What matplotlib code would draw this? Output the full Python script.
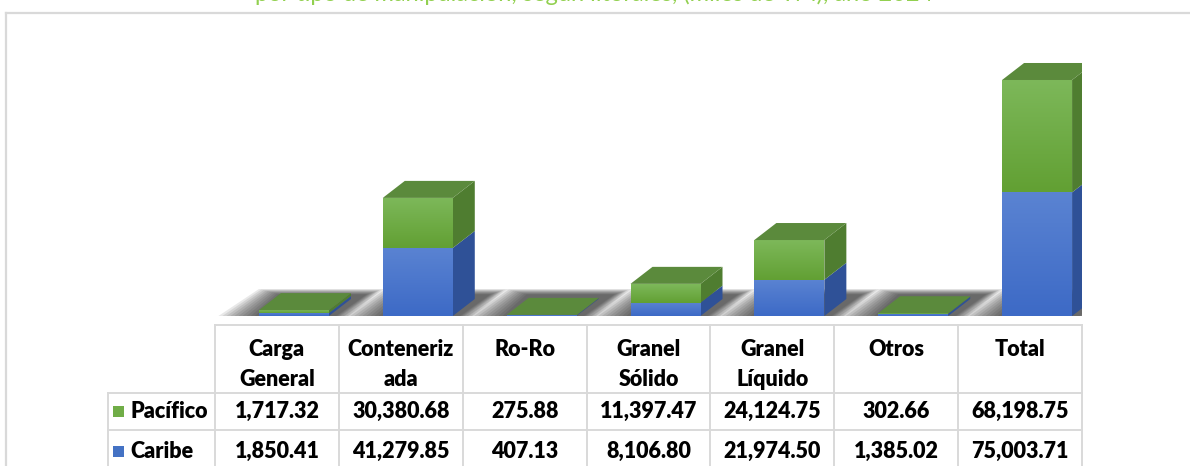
import matplotlib
matplotlib.use("Agg")
import matplotlib.pyplot as plt
import numpy as np
from matplotlib.patches import Polygon
from matplotlib.colors import LinearSegmentedColormap

# data (miles de TM, año 2024)
categorias = ["Carga\nGeneral", "Conteneriz\nada", "Ro-Ro", "Granel\nSólido",
              "Granel\nLíquido", "Otros", "Total"]
pacifico = [1717.32, 30380.68, 275.88, 11397.47, 24124.75, 302.66, 68198.75]
caribe = [1850.41, 41279.85, 407.13, 8106.80, 21974.50, 1385.02, 75003.71]
series = ["Pacífico", "Caribe"]
titulo = "por tipo de manipulación, según litorales, (miles de TM), año 2024"

W, H = 1190, 466
FONT = "Lato"

green = dict(front=("#7DB85A", "#62A033"), side="#4F7D30", top="#5B8A3C")
blue = dict(front=("#5A83D2", "#3D6AC6"), side="#2F5197", top="#3A5FA8")

fig = plt.figure(figsize=(W / 100, H / 100), dpi=100)
fig.patch.set_facecolor("white")

# bar area in pixels (left, top of axis, right, baseline)
col_l, col_r, base_px, top_px = 215, 1082, 316, 50
ax = fig.add_axes([col_l / W, (H - base_px) / H, (col_r - col_l) / W,
                   (base_px - top_px) / H])
n = len(categorias)
ymax = 161400
ax.set_xlim(-0.5, n - 0.5)
ax.set_ylim(0, ymax)
ax.axis("off")

colw = (col_r - col_l) / n
px_x = 1 / colw                 # category units per pixel
px_y = ymax / (base_px - top_px)  # data units per pixel
shift = 17 * px_x
half = 35 * px_x
dx, dy = 22 * px_x, 17 * px_y


def grad_face(x0, x1, y0, y1, c_top, c_bot, z):
    poly = Polygon([(x0, y0), (x1, y0), (x1, y1), (x0, y1)], closed=True,
                   facecolor="none", edgecolor="none", zorder=z)
    ax.add_patch(poly)
    cmap = LinearSegmentedColormap.from_list("g", [c_bot, c_top])
    g = np.linspace(0, 1, 64).reshape(-1, 1)
    im = ax.imshow(g, extent=[x0, x1, y0, max(y1, y0 + 1)], origin="lower",
                   aspect="auto", cmap=cmap, zorder=z, interpolation="bilinear")
    im.set_clip_path(poly)


def shadow(xl, xr, z):
    for k in range(10):
        g = 1 - k / 10
        pts = [(xl - (45 * g) * px_x, -3 * px_y * g),
               (xr + (6 + 10 * g) * px_x, -3 * px_y * g),
               (xr + dx + (14 + 18 * g) * px_x, dy + (4 + 6 * g) * px_y),
               (xl + dx - (22 * g) * px_x, dy + (4 + 6 * g) * px_y)]
        ax.add_patch(Polygon(pts, closed=True, facecolor="#222222",
                             edgecolor="none", alpha=0.1, zorder=z))


for i in range(n):
    xc = i + shift
    xl, xr = xc - half, xc + half
    z = 10 + i
    shadow(xl, xr, z - 0.5)
    bottom = 0
    segs = [(caribe[i], blue), (pacifico[i], green)]
    for j, (v, c) in enumerate(segs):
        y0, y1 = bottom, bottom + v
        grad_face(xl, xr, y0, y1, c["front"][0], c["front"][1], z + 0.2)
        ax.add_patch(Polygon([(xr, y0), (xr + dx, y0 + dy), (xr + dx, y1 + dy),
                              (xr, y1)], closed=True, facecolor=c["side"],
                             edgecolor="none", zorder=z + 0.1))
        if j == len(segs) - 1:
            ax.add_patch(Polygon([(xl, y1), (xr, y1), (xr + dx, y1 + dy),
                                  (xl + dx, y1 + dy)], closed=True,
                                 facecolor=c["top"], edgecolor="none",
                                 zorder=z + 0.3))
        bottom = y1

ax.set_xlim(-0.5, n - 0.5)
ax.set_ylim(0, ymax)

# overlay in pixel coordinates: frame, title, data table
ov = fig.add_axes([0, 0, 1, 1], zorder=5)
ov.set_xlim(0, W)
ov.set_ylim(H, 0)
ov.axis("off")

lc = "#D9D9D9"
ov.plot([6, W], [13, 13], color=lc, lw=1.6)
ov.plot([6, 6], [13, H], color=lc, lw=1.6)

# title is partly above the top edge, as in the reference
ov.text(594, 1, titulo, color="#92D050", fontsize=17, family=FONT,
        ha="center", va="baseline")

leg_l = 108
hdr_top, r1, r2 = 325, 393, 430
ov.plot([col_l, col_r], [hdr_top, hdr_top], color=lc, lw=1.4)
for yy in (r1, r2):
    ov.plot([leg_l, col_r], [yy, yy], color=lc, lw=1.4)
ov.plot([leg_l, leg_l], [r1, H], color=lc, lw=1.4)
for k in range(n + 1):
    xx = col_l + k * colw
    ov.plot([xx, xx], [hdr_top, H], color=lc, lw=1.4)

tkw = dict(family=FONT, fontweight="heavy", fontsize=15.5, color="black")
for k, cat in enumerate(categorias):
    ov.text(col_l + (k + 0.5) * colw, 339, cat, ha="center", va="top",
            linespacing=1.5, **tkw)

rows = [(series[0], pacifico, "#70AD47", (r1 + r2) / 2),
        (series[1], caribe, "#4472C4", (r2 + H + 7) / 2)]
for name, vals, col, yc in rows:
    ov.add_patch(plt.Rectangle((113, yc - 5.5), 11, 11, facecolor=col,
                               edgecolor="none"))
    ov.text(130, yc, name, ha="left", va="center", **tkw)
    for k, v in enumerate(vals):
        ov.text(col_l + (k + 0.5) * colw, yc, f"{v:,.2f}", ha="center",
                va="center", **tkw)

fig.savefig("out.png", dpi=100)
